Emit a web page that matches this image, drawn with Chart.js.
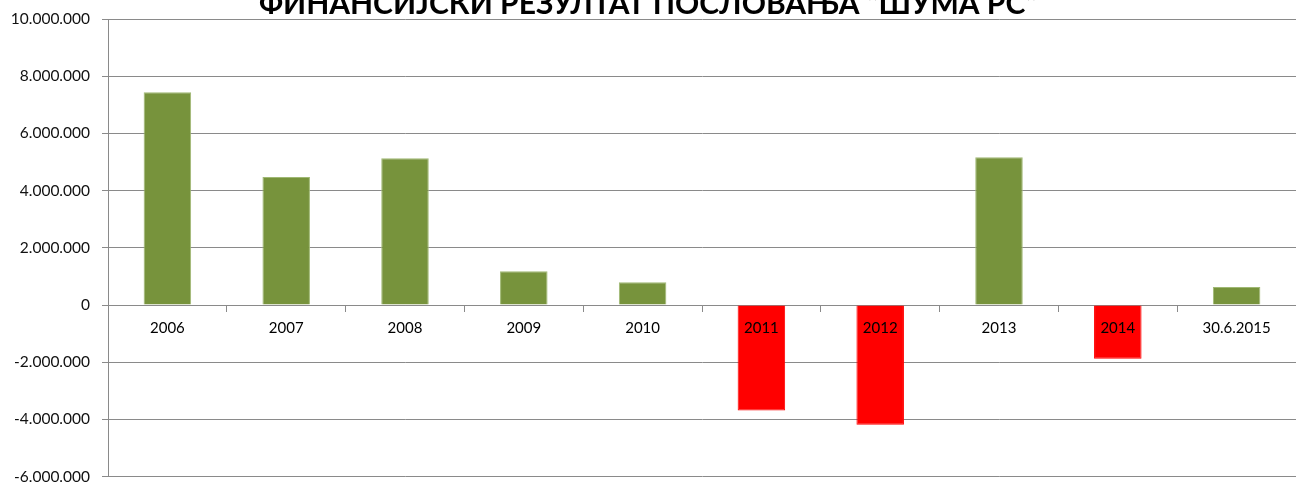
<!DOCTYPE html>
<html>
<head>
<meta charset="utf-8">
<script src="https://cdn.jsdelivr.net/npm/chart.js@4"></script>
<style>
html, body { margin: 0; padding: 0; background: #fff; }
#wrap { position: relative; width: 1296px; height: 486px; overflow: hidden; }
#chart { position: absolute; left: 0; top: -30px; }
</style>
</head>
<body>
<div id="wrap"><canvas id="chart" width="1296" height="528"></canvas></div>
<script>
var periods = ['2006', '2007', '2008', '2009', '2010', '2011', '2012', '2013', '2014', '30.6.2015'];
var result = [7440000, 4475000, 5130000, 1180000, 800000, -3690000, -4180000, 5170000, -1880000, 630000];
var yTickLabels = ['-6.000.000', '-4.000.000', '-2.000.000', '0', '2.000.000', '4.000.000', '6.000.000', '8.000.000', '10.000.000'];

var gridColor = '#8a8a8a';
var profitColor = '#77933c';
var lossColor = '#ff0000';

var ctx = document.getElementById('chart').getContext('2d');
var chart = new Chart(ctx, {
    type: 'bar',
    data: {
        labels: periods,
        datasets: [{
            label: 'Резултат',
            data: result,
            backgroundColor: function (c) { return c.raw < 0 ? lossColor : profitColor; },
            borderColor: function (c) { return c.raw < 0 ? lossColor : '#9fb873'; },
            borderWidth: 1,
            borderSkipped: 'bottom',
            categoryPercentage: 1,
            barPercentage: 0.4
        }]
    },
    options: {
        responsive: false,
        animation: false,
        layout: { padding: { left: 0, right: 0, top: 0, bottom: 0 } },
        plugins: {
            legend: { display: false },
            tooltip: { enabled: false },
            title: {
                display: true,
                text: 'ФИНАНСИЈСКИ РЕЗУЛТАТ ПОСЛОВАЊА "ШУМА РС"',
                color: '#000',
                font: { family: 'Lato', size: 30, weight: 'bold' },
                padding: { top: 16, bottom: -3 }
            }
        },
        scales: {
            x: {
                position: { y: 0 },
                grid: { offset: true, drawOnChartArea: false, tickLength: 6, color: gridColor },
                border: { color: gridColor },
                ticks: {
                    z: 1,
                    color: '#000',
                    font: { family: 'Lato', size: 15 },
                    padding: 8,
                    maxRotation: 0,
                    autoSkip: false
                }
            },
            y: {
                min: -6000000,
                max: 10000000,
                ticks: {
                    stepSize: 2000000,
                    color: '#111',
                    font: { family: 'Lato', size: 15.5 },
                    padding: 12,
                    callback: function (v, i) { return yTickLabels[i]; }
                },
                grid: { color: gridColor, tickLength: 6 },
                border: { color: gridColor },
                afterFit: function (s) { s.width = 108; }
            }
        }
    }
});
</script>
</body>
</html>
